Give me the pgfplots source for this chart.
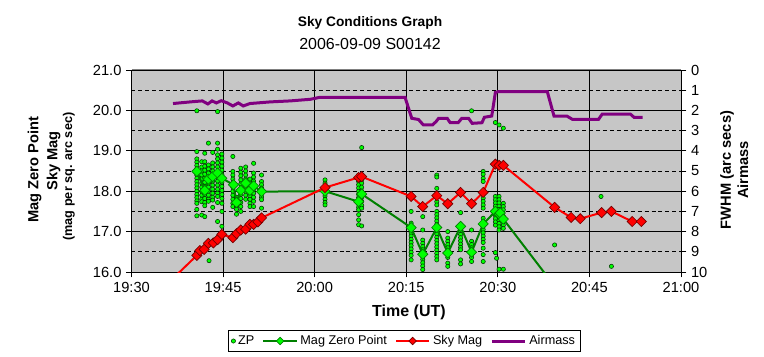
\documentclass[border=0pt]{standalone}
\usepackage{fontspec}
\setmainfont{Liberation Sans}
\usepackage{pgfplots}
\pgfplotsset{compat=1.18}
\definecolor{bg}{RGB}{198,198,198}
\definecolor{mzp}{RGB}{0,128,0}
\definecolor{limeg}{RGB}{0,255,0}
\definecolor{purp}{RGB}{128,0,128}
\pgfplotsset{
 zpstyle/.style={only marks, mark=*, mark size=1.6pt, mark options={fill=limeg, draw=black!80!green, line width=0.4pt}},
 mzpstyle/.style={mzp, line width=1.5pt, mark=square*, mark size=2.7pt, mark options={rotate=45, fill=limeg, draw=mzp, line width=0.5pt, solid}},
 skystyle/.style={red, line width=1.5pt, mark=square*, mark size=2.7pt, mark options={rotate=45, fill=red, draw=red!45!black, line width=0.5pt, solid}},
 airstyle/.style={purp, line width=2.25pt},
 common/.style={scale only axis, width=412.125pt, height=151.5pt, at={(0,0)}, anchor=south west,
   xmin=0, xmax=90, tick align=outside, major tick length=4pt, minor tick length=0pt,
   tick style={black, line width=0.75pt}, axis line style={black, line width=0.75pt, -},
   ticklabel style={font=\fontsize{11}{13}\selectfont},
   /pgf/number format/assume math mode=true},
}
\begin{document}
\begin{tikzpicture}[x=1pt,y=1pt]
\useasboundingbox (-98.625,-63.75) rectangle (474.375,204);
\begin{axis}[common,
 ymin=16, ymax=21,
 xtick={0,15,...,90}, xticklabels={19:30,19:45,20:00,20:15,20:30,20:45,21:00},
 ytick={16,...,21}, minor ytick={16.5,17.5,...,20.5},
 yticklabel style={/pgf/number format/.cd, fixed, fixed zerofill, precision=1},
 xmajorgrids, ymajorgrids, yminorgrids,
 major grid style={black, line width=0.75pt},
 minor grid style={black, line width=0.75pt, dash pattern=on 3pt off 2.2pt},
 axis background/.style={fill=bg},
 axis x line*=bottom, axis y line*=left,
 clip marker paths=true,
]
% ZP scatter
\addplot[zpstyle] table {
x y
10.7 19.99
10.7 18.98
10.7 18.80
10.7 18.72
10.7 18.64
10.7 18.56
10.7 18.40
10.7 18.32
10.7 18.24
10.7 18.16
10.7 18.08
10.7 18.00
10.7 17.92
10.7 17.84
10.7 17.76
10.7 17.70
10.7 17.55
10.7 17.39
11.5 18.73
11.5 18.60
11.5 18.50
11.5 18.40
11.5 18.30
11.5 18.20
11.5 18.10
11.5 18.00
11.5 17.90
11.5 17.80
11.5 17.74
11.5 17.41
12.0 18.94
12.0 18.73
12.0 18.62
12.0 18.52
12.0 18.42
12.0 18.32
12.0 18.22
12.0 18.12
12.0 17.92
12.0 17.82
12.0 17.72
12.0 17.64
12.0 17.37
12.6 19.19
12.6 18.65
12.6 18.55
12.6 18.45
12.6 18.20
12.6 18.10
12.6 18.00
12.6 17.90
12.6 17.80
12.6 17.75
12.7 16.28
13.3 18.96
13.3 18.70
13.3 18.60
13.3 18.50
13.3 18.25
13.3 18.15
13.3 18.05
13.3 17.95
13.3 17.85
13.3 17.78
13.3 17.60
14.1 19.97
14.1 19.19
14.1 19.04
14.1 18.90
14.1 18.80
14.1 18.70
14.1 18.60
14.1 18.35
14.1 18.25
14.1 18.15
14.1 18.05
14.1 17.95
14.1 17.87
14.1 17.72
14.1 17.25
14.8 18.92
14.8 18.82
14.8 18.72
14.8 18.62
14.8 18.52
14.8 18.42
14.8 18.22
14.8 18.12
14.8 18.02
14.8 17.92
14.8 17.82
14.8 17.70
14.8 17.50
14.8 17.13
16.6 18.86
16.6 18.49
16.6 18.40
16.6 18.30
16.6 18.20
16.6 18.10
16.6 18.00
16.6 17.90
16.6 17.80
16.6 17.70
16.6 17.62
17.2 17.85
17.2 17.80
17.2 17.62
17.2 17.55
17.2 17.43
17.9 18.57
17.9 18.47
17.9 18.38
17.9 18.28
17.9 18.18
17.9 17.92
17.9 17.82
17.9 17.72
17.9 17.62
17.9 17.50
18.7 18.60
18.7 18.50
18.7 18.40
18.7 18.30
18.7 18.10
18.7 18.00
18.7 17.90
18.7 17.80
19.4 18.30
19.4 18.20
19.4 18.10
19.4 17.95
19.4 17.88
19.4 17.80
19.4 17.70
19.4 17.62
20.0 18.69
20.0 18.45
20.0 18.35
20.0 18.25
20.0 18.05
20.0 17.95
20.0 17.85
20.0 17.75
20.0 17.62
21.3 18.40
21.3 18.24
21.3 18.16
21.3 18.08
21.3 17.92
21.3 17.85
21.3 17.79
21.3 17.58
31.7 18.28
31.7 18.20
31.7 18.12
31.7 18.04
31.7 17.96
31.7 17.88
31.7 17.80
31.7 17.72
31.7 17.66
37.2 18.40
37.2 18.32
37.2 18.24
37.2 18.16
37.2 18.08
37.2 18.00
37.2 17.92
37.2 17.84
37.2 17.76
37.2 17.68
37.2 17.60
37.2 17.54
37.2 17.42
37.2 17.29
37.2 17.17
37.7 19.08
37.7 18.38
37.7 18.28
37.7 18.20
37.7 18.10
37.7 18.00
37.7 17.85
37.7 17.75
37.7 17.65
37.7 17.58
37.7 17.14
45.8 17.50
45.8 17.21
45.8 17.13
45.8 17.05
45.8 16.97
45.8 16.89
45.8 16.81
45.8 16.73
45.8 16.65
45.8 16.57
45.8 16.49
45.8 16.41
45.8 16.30
47.7 17.37
47.7 17.04
47.7 16.79
47.7 16.71
47.7 16.63
47.7 16.55
47.7 16.47
47.7 16.39
47.7 16.31
47.7 16.23
47.7 16.15
47.7 16.06
50.0 18.40
50.0 18.35
50.0 18.07
50.0 17.74
50.0 17.66
50.0 17.50
50.0 17.42
50.0 17.34
50.0 17.26
50.0 17.18
50.0 17.02
50.0 16.94
50.0 16.86
50.0 16.78
50.0 16.70
50.0 16.62
50.0 16.54
50.0 16.46
50.0 16.38
50.0 16.30
51.8 17.00
51.8 16.84
51.8 16.76
51.8 16.68
51.8 16.60
51.8 16.52
51.8 16.36
51.8 16.22
51.8 16.14
53.9 17.47
53.9 17.17
53.9 17.09
53.9 17.01
53.9 16.93
53.9 16.85
53.9 16.77
53.9 16.69
53.9 16.61
53.9 16.55
53.9 16.30
53.9 16.20
55.7 19.99
55.7 17.04
55.7 16.76
55.7 16.68
55.7 16.60
55.7 16.52
55.7 16.44
55.7 16.36
55.7 16.26
57.6 18.49
57.6 18.42
57.6 18.32
57.6 18.24
57.6 17.83
57.6 17.75
57.6 17.66
57.6 17.58
57.6 17.33
57.6 17.21
57.6 17.13
57.6 17.05
57.6 16.97
57.6 16.89
57.6 16.81
57.6 16.73
57.6 16.59
57.6 16.43
57.6 16.26
59.6 19.70
59.6 17.87
59.6 17.79
59.6 17.71
59.6 17.63
59.6 17.55
59.6 17.40
59.6 17.32
59.6 17.24
59.6 17.16
59.6 16.48
59.8 16.34
60.2 19.64
60.2 17.87
60.2 17.79
60.2 17.71
60.2 17.63
60.2 17.55
60.2 17.36
60.2 17.28
60.2 17.20
60.2 17.12
60.2 17.04
60.2 16.07
60.9 19.56
60.9 17.70
60.9 17.62
60.9 17.54
60.9 17.38
60.9 17.24
60.9 17.16
60.9 17.08
60.9 16.07
69.3 16.67
76.9 17.87
78.6 16.14
};
% Mag Zero Point
\addplot[mzpstyle] table {
x y
10.7 18.49
12.0 18.02
12.6 18.30
13.3 18.36
14.1 18.45
14.8 18.32
16.7 18.16
17.2 17.72
17.9 18.02
18.7 18.20
19.4 18.02
20.0 18.13
21.3 17.99
31.7 18.00
37.2 17.74
37.7 17.93
45.8 17.10
47.7 16.44
50.0 17.10
51.8 16.47
53.9 17.13
55.7 16.49
57.6 17.19
59.6 17.50
60.2 17.44
60.4 17.46
60.9 17.31
69.3 15.65
};
% Sky Mag
\addplot[skystyle] table {
x y
5.0 15.58
10.7 16.41
11.2 16.53
11.9 16.56
12.6 16.71
13.4 16.72
14.1 16.80
14.8 16.93
16.6 16.85
17.2 16.95
17.9 17.04
18.7 17.06
19.4 17.18
20.0 17.18
20.7 17.24
21.3 17.34
31.7 18.09
37.2 18.34
37.7 18.36
45.8 17.87
47.7 17.62
50.0 17.89
51.8 17.69
53.9 17.97
55.7 17.69
57.6 17.97
59.6 18.67
60.2 18.64
60.9 18.64
69.3 17.60
72.0 17.35
73.5 17.32
77.0 17.47
78.6 17.50
82.0 17.25
83.5 17.25
};
\end{axis}
\begin{axis}[common,
 ymin=0, ymax=10, y dir=reverse,
 axis y line*=right, axis x line=none,
 ytick={0,...,10},
 legend columns=4,
 legend style={at={(0.4968,-0.3416)}, anchor=center, draw=black, line width=0.75pt,
   font=\fontsize{9.5}{11}\selectfont, inner sep=2pt,
   /tikz/every even column/.append style={column sep=4pt}},
 legend image code/.code={\draw[mark repeat=2,mark phase=2,#1] plot coordinates {(0pt,0pt)(12.5pt,0pt)(25pt,0pt)};},
]
\addlegendimage{zpstyle}
\addlegendentry{ZP}
\addlegendimage{mzpstyle, mark size=2pt}
\addlegendentry{Mag Zero Point}
\addlegendimage{skystyle, mark size=2pt}
\addlegendentry{Sky Mag}
\addplot[airstyle] table {
x y
6.8 1.66
9.6 1.58
11.6 1.53
12.5 1.68
13.2 1.53
13.9 1.63
14.7 1.52
15.7 1.63
16.6 1.78
17.5 1.63
18.3 1.78
19.4 1.66
22.7 1.58
26.0 1.53
29.3 1.45
30.9 1.35
44.8 1.35
45.9 2.39
47.0 2.45
47.8 2.72
49.3 2.72
49.9 2.55
50.3 2.39
51.7 2.39
52.2 2.61
53.5 2.61
54.1 2.39
55.2 2.39
55.8 2.64
57.4 2.61
57.8 2.34
59.0 2.28
59.6 1.11
60.1 1.07
68.1 1.07
69.2 2.28
71.3 2.28
72.2 2.44
76.5 2.44
77.1 2.18
81.7 2.18
82.3 2.34
83.7 2.34
};
\addlegendentry{Airmass}
\end{axis}
\draw[gray, line width=0.75pt] (0,151.5) -- (412.125,151.5);
\node[font=\bfseries\fontsize{10.3}{12}\selectfont] at (178.9,187) {Sky Conditions Graph};
\node[font=\fontsize{12}{14}\selectfont] at (178.9,171) {2006-09-09 S00142};
\node[font=\bfseries\fontsize{12}{14}\selectfont] at (208.1,-30) {Time (UT)};
\node[font=\bfseries\fontsize{11}{13}\selectfont, rotate=90] at (-72.75,76.5) {Mag Zero Point};
\node[font=\bfseries\fontsize{11}{13}\selectfont, rotate=90] at (-58.5,83.25) {Sky Mag};
\node[font=\bfseries\fontsize{9.5}{11}\selectfont, rotate=90] at (-46.9,71.55) {(mag per sq. arc sec)};
\node[font=\bfseries\fontsize{11}{13}\selectfont, rotate=90] at (446.6,76.5) {FWHM (arc secs)};
\node[font=\bfseries\fontsize{11}{13}\selectfont, rotate=90] at (458.6,76.5) {Airmass};
\end{tikzpicture}
\end{document}
